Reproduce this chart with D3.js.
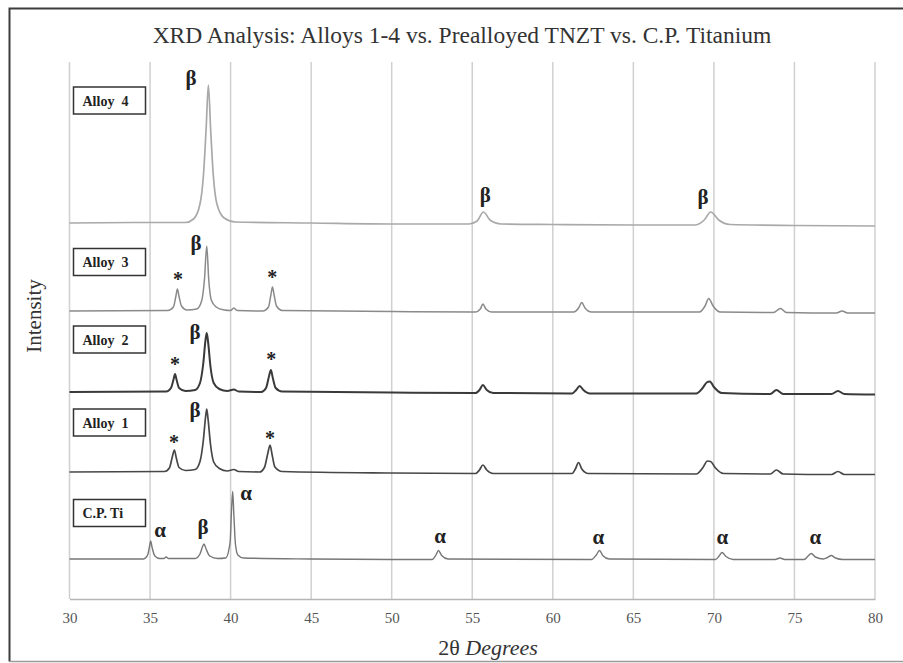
<!DOCTYPE html>
<html>
<head>
<meta charset="utf-8">
<script src="https://cdn.jsdelivr.net/npm/d3@7"></script>
<style>
  html, body { margin: 0; padding: 0; background: #fff; }
  svg { display: block; }
</style>
</head>
<body>
<div id="chart"></div>
<script>
// ---------------- DATA ----------------
const chartTitle = "XRD Analysis: Alloys 1-4 vs. Prealloyed TNZT vs. C.P. Titanium";
const xTicks = [30, 35, 40, 45, 50, 55, 60, 65, 70, 75, 80];
const seriesNames = ["Alloy 4", "Alloy 3", "Alloy 2", "Alloy 1", "C.P. Ti"];
// label-box centre level (intensity units) for each series
const labelLevels = [997, 674, 519, 353, 172];

// [2θ degrees, intensity (offset, arbitrary units)]
const alloy4 = [[30,752],[34,753],[37.2,753],[37.7,760],[38.1,790],[38.32,850],[38.48,940],[38.62,1028],[38.76,940],[38.92,850],[39.15,790],[39.6,762],[40.3,754],[45,752],[50,750],[54.8,750],[55.3,756],[55.7,774],[56.1,758],[56.8,750],[60,749],[65,748],[68.8,748],[69.4,758],[69.8,774],[70.3,758],[71,749],[75,747],[80,746]];
const alloy3 = [[30,576],[36.1,577],[36.45,584],[36.6,605],[36.7,620],[36.8,605],[36.95,586],[37.3,578],[37.9,580],[38.2,596],[38.38,640],[38.52,706],[38.64,640],[38.8,598],[39.1,584],[39.6,578],[40.0,577],[40.2,582],[40.4,577],[42.0,576],[42.35,584],[42.5,608],[42.6,624],[42.7,608],[42.85,586],[43.2,577],[50,575],[55.2,574],[55.5,580],[55.66,590],[55.85,580],[56.2,574],[61.3,574],[61.6,582],[61.8,593],[62.0,582],[62.4,574],[69.1,574],[69.45,586],[69.68,601],[69.95,586],[70.4,574],[73.7,573],[74.13,581],[74.5,573],[77.6,572],[77.96,576],[78.3,572],[80,572]];
const alloy2 = [[30,414],[36.0,415],[36.3,422],[36.45,438],[36.55,450],[36.65,438],[36.8,422],[37.2,416],[37.8,418],[38.1,432],[38.3,470],[38.45,520],[38.52,532],[38.6,515],[38.75,465],[38.95,432],[39.3,420],[39.8,416],[40.2,419],[40.5,415],[41.9,414],[42.2,422],[42.38,445],[42.5,458],[42.62,442],[42.8,422],[43.2,415],[50,413],[55.2,412],[55.45,418],[55.66,428],[55.9,418],[56.3,412],[61.2,411],[61.45,418],[61.67,426],[61.9,418],[62.3,411],[68.9,411],[69.3,422],[69.55,433],[69.75,435],[70.0,424],[70.5,412],[73.5,410],[73.88,418],[74.3,410],[77.3,410],[77.7,416],[78.1,410],[80,409]];
const alloy1 = [[30,254],[35.9,255],[36.2,262],[36.38,284],[36.51,298],[36.63,282],[36.8,263],[37.2,257],[37.8,259],[38.1,275],[38.3,315],[38.45,365],[38.52,380],[38.6,360],[38.75,310],[38.95,274],[39.3,261],[39.8,256],[40.2,259],[40.5,255],[41.8,254],[42.1,263],[42.3,290],[42.45,308],[42.58,288],[42.75,264],[43.2,255],[50,252],[55.2,251],[55.45,258],[55.66,268],[55.9,258],[56.3,251],[61.2,251],[61.4,260],[61.6,273],[61.8,260],[62.2,251],[68.9,250],[69.3,262],[69.6,276],[69.8,275],[70.1,262],[70.6,251],[73.5,250],[73.88,258],[74.3,250],[77.3,249],[77.7,255],[78.1,249],[80,249]];
const cpTi = [[30,80],[34.6,80],[34.85,88],[34.97,106],[35.04,116],[35.12,104],[35.3,86],[35.6,81],[35.85,81],[36.0,84],[36.15,81],[37.8,81],[38.1,90],[38.25,104],[38.35,110],[38.48,100],[38.7,86],[39.2,81],[39.7,82],[39.9,100],[39.98,118],[40.06,180],[40.13,215],[40.2,170],[40.3,110],[40.45,88],[40.8,82],[45,80],[50,79],[52.5,79],[52.75,88],[52.9,97],[53.1,87],[53.5,80],[62.4,79],[62.7,88],[62.9,97],[63.1,87],[63.5,80],[70.1,79],[70.35,87],[70.5,93],[70.75,85],[71.2,79],[73.8,79],[74.1,82],[74.4,79],[75.6,79],[75.85,86],[76.04,91],[76.3,84],[76.8,80],[77.05,83],[77.28,87],[77.55,82],[78,79],[80,79]];
const seriesData = [alloy4, alloy3, alloy2, alloy1, cpTi];

// phase annotations: [symbol, 2θ, intensity]
const phaseLabels = [
  ["β", 37.55, 1042], ["β", 55.81, 808], ["β", 69.33, 804],
  ["β", 37.86, 712], ["*", 36.74, 640], ["*", 42.58, 644],
  ["β", 37.8, 534], ["*", 36.55, 470], ["*", 42.52, 480],
  ["β", 37.8, 378], ["*", 36.49, 314], ["*", 42.45, 322],
  ["α", 35.62, 138], ["β", 38.29, 144], ["α", 40.96, 212],
  ["α", 53.0, 126], ["α", 62.83, 124], ["α", 70.53, 124], ["α", 76.3, 124]
];

// ---------------- STYLE / LAYOUT ----------------
const W = 903, H = 663;
const M = { left: 69.5, right: 875, top: 62, bottom: 599 };
const lineColors = ["#a9a9a9", "#8a8a8a", "#3a3a3a", "#474747", "#777777"];
const lineWidths = [1.7, 1.5, 2.0, 1.7, 1.4];
const serif = "'Liberation Serif', 'Times New Roman', serif";

const svg = d3.select("#chart").append("svg").attr("width", W).attr("height", H);
svg.append("rect").attr("width", W).attr("height", H).attr("fill", "#fff");

// frame
svg.append("path").attr("d", `M${W},8.5 H9.5 V661.5`).attr("fill", "none").attr("stroke", "#3c3c3c").attr("stroke-width", 2);
svg.append("line").attr("x1", 9.5).attr("x2", W).attr("y1", 661.5).attr("y2", 661.5).attr("stroke", "#9a9a9a").attr("stroke-width", 1.5);

const x = d3.scaleLinear().domain([30, 80]).range([M.left, M.right]);
const y = d3.scaleLinear().domain([0, 1074]).range([M.bottom, M.top]);

// vertical gridlines
svg.append("g").selectAll("line").data(xTicks).join("line")
  .attr("x1", d => x(d)).attr("x2", d => x(d))
  .attr("y1", M.top).attr("y2", M.bottom)
  .attr("stroke", "#d0d0d0").attr("stroke-width", 1.5);

// x axis
const xAxis = d3.axisBottom(x).tickValues(xTicks).tickSize(0).tickPadding(13);
const gx = svg.append("g").attr("transform", `translate(0,${M.bottom})`).call(xAxis);
gx.select(".domain").attr("stroke", "#b5b5b5").attr("stroke-width", 1.5);
gx.selectAll("text").attr("font-family", serif).attr("font-size", 15).attr("fill", "#555");

// series lines
const line = d3.line().x(d => x(d[0])).y(d => y(d[1])).curve(d3.curveMonotoneX);
svg.append("g").selectAll("path").data(seriesData).join("path")
  .attr("d", line).attr("fill", "none")
  .attr("stroke", (d, i) => lineColors[i]).attr("stroke-width", (d, i) => lineWidths[i])
  .attr("stroke-linejoin", "round");

// label boxes
const boxes = svg.append("g").selectAll("g").data(seriesNames).join("g")
  .attr("transform", (d, i) => `translate(${x(30) + 4},${y(labelLevels[i]) - 13.5})`);
boxes.append("rect").attr("width", 72).attr("height", 27)
  .attr("fill", "#fff").attr("stroke", "#333").attr("stroke-width", 1.5);
boxes.append("text").attr("x", 9).attr("y", 18.5)
  .attr("font-family", serif).attr("font-weight", "bold").attr("font-size", 14).attr("fill", "#222")
  .style("white-space", "pre")
  .text(d => d.replace(" ", "  ").replace("C.P.  Ti", "C.P. Ti"));

// phase annotations
svg.append("g").selectAll("text").data(phaseLabels).join("text")
  .attr("x", d => x(d[1])).attr("y", d => y(d[2]))
  .attr("text-anchor", "middle").attr("dominant-baseline", "central")
  .attr("font-family", serif)
  .attr("font-size", d => d[0] === "*" ? 20 : 21)
  .attr("font-weight", "bold")
  .attr("fill", "#222")
  .text(d => d[0]);

// titles
svg.append("text").attr("x", 462).attr("y", 43).attr("text-anchor", "middle")
  .attr("font-family", serif).attr("font-size", 23.5).attr("fill", "#333").text(chartTitle);

svg.append("text").attr("transform", "translate(41,316) rotate(-90)").attr("text-anchor", "middle")
  .attr("font-family", serif).attr("font-size", 21).attr("fill", "#333").text("Intensity");

const xt = svg.append("text").attr("x", 488).attr("y", 655).attr("text-anchor", "middle")
  .attr("font-family", serif).attr("font-size", 22).attr("fill", "#333");
xt.append("tspan").text("2θ ");
xt.append("tspan").attr("font-style", "italic").text("Degrees");
</script>
</body>
</html>
